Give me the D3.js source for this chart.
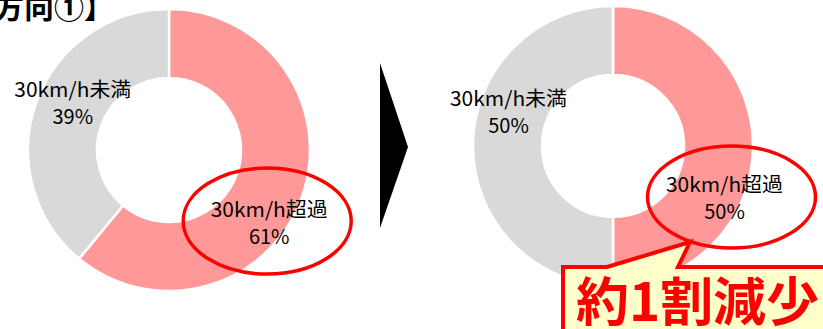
<!DOCTYPE html>
<html>
<head>
<meta charset="utf-8">
<script src="https://cdn.jsdelivr.net/npm/d3@7"></script>
<style>
  body { margin: 0; background: #fff; }
  svg { display: block; font-family: "Noto Sans CJK JP", "Noto Sans", sans-serif; }
</style>
</head>
<body>
<div id="chart"></div>
<script>
var svgWidth = 823;
var svgHeight = 329;

// data
var categories = ["30km/h超過", "30km/h未満"];
var beforeValues = [61, 39];
var afterValues = [50, 50];
var colors = ["#FF9999", "#D9D9D9"];
var titleText = "【速度方向①】";
var calloutText = "約1割減少";

var svg = d3.select("#chart")
  .append("svg")
  .attr("width", svgWidth)
  .attr("height", svgHeight);

var pie = d3.pie().sort(null).value(d => d.value);

// draws one donut with its two labels, returns label centres
function drawDonut(values, cx, cy, rOuter, rInner, labelShift) {
  var rows = categories.map((c, i) => ({ name: c, value: values[i], color: colors[i] }));
  var arc = d3.arc().innerRadius(rInner).outerRadius(rOuter);
  var g = svg.append("g").attr("transform", `translate(${cx}, ${cy})`);

  g.selectAll("path")
    .data(pie(rows))
    .enter()
    .append("path")
    .attr("d", arc)
    .attr("fill", d => d.data.color)
    .attr("stroke", "#fff")
    .attr("stroke-width", 2.5);

  var centres = [];
  pie(rows).forEach(function(d, i) {
    var c = arc.centroid(d);
    var x = c[0] + labelShift[i][0];
    var y = c[1] + labelShift[i][1];
    centres.push([cx + x, cy + y]);
    var t = g.append("text")
      .attr("text-anchor", "middle")
      .attr("font-size", 20)
      .attr("fill", "#000");
    t.append("tspan")
      .attr("x", x)
      .attr("y", y - 7)
      .attr("textLength", 117)
      .attr("lengthAdjust", "spacingAndGlyphs")
      .text(d.data.name);
    t.append("tspan")
      .attr("x", x)
      .attr("y", y + 20)
      .text(d.data.value + "%");
  });
  return centres;
}

var leftCentres = drawDonut(beforeValues, 169, 150, 141, 72, [[0, 38], [4, -10]]);
var rightCentres = drawDonut(afterValues, 613, 146, 140, 71, [[6, 53], [1, -33]]);

// red ellipses around the "超過" labels
svg.append("ellipse")
  .attr("cx", leftCentres[0][0] - 2)
  .attr("cy", leftCentres[0][1] - 3)
  .attr("rx", 84)
  .attr("ry", 53)
  .attr("fill", "none")
  .attr("stroke", "#FF0000")
  .attr("stroke-width", 3.5);

svg.append("ellipse")
  .attr("cx", rightCentres[0][0] + 7)
  .attr("cy", rightCentres[0][1] - 2)
  .attr("rx", 84)
  .attr("ry", 51)
  .attr("fill", "none")
  .attr("stroke", "#FF0000")
  .attr("stroke-width", 3.5);

// arrow between the donuts
svg.append("path")
  .attr("d", "M380,63 L408,147 L380,228 Z")
  .attr("fill", "#000");

// title, cut by the left/top edge as in the source slide
svg.append("text")
  .attr("x", -96)
  .attr("y", 18)
  .attr("font-size", 30)
  .attr("font-weight", "bold")
  .attr("fill", "#000")
  .text(titleText);

// callout box
svg.append("path")
  .attr("d", "M563,340 L563,267 L607,267 L690,242 L678,267 L840,267 L840,340")
  .attr("fill", "#FFFFCC")
  .attr("stroke", "#FF0000")
  .attr("stroke-width", 4)
  .attr("stroke-linejoin", "miter");

svg.append("text")
  .attr("x", 576)
  .attr("y", 321)
  .attr("font-size", 52)
  .attr("font-weight", "bold")
  .attr("fill", "#FF0000")
  .attr("textLength", 243)
  .attr("lengthAdjust", "spacingAndGlyphs")
  .text(calloutText);
</script>
</body>
</html>
